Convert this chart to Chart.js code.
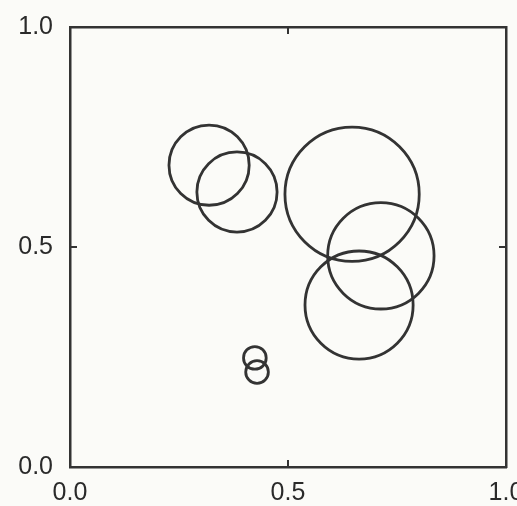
<!DOCTYPE html>
<html>
<head>
<meta charset="utf-8">
<script src="https://cdn.jsdelivr.net/npm/chart.js@4.4.0/dist/chart.umd.min.js"></script>
<style>
  html, body { margin: 0; padding: 0; background: #fbfbf8; }
  #wrap { width: 517px; height: 506px; }
</style>
</head>
<body>
<div id="wrap"><canvas id="bubbles"></canvas></div>
<script>
// circle centres and radii, all in axis units
var xs = [0.319, 0.383, 0.647, 0.713, 0.663, 0.424, 0.429];
var ys = [0.686, 0.625, 0.620, 0.480, 0.368, 0.248, 0.216];
var radii = [0.092, 0.092, 0.154, 0.122, 0.124, 0.026, 0.026];
var tickVals = [0, 0.5, 1];

var ink = "#333";
var labelFont = { family: "'Liberation Sans', Arial, sans-serif", size: 25 };

// small inward ticks at 0.5 on all four sides of the frame
var innerTicks = {
  id: "innerTicks",
  afterDraw: function (chart) {
    var c = chart.ctx, a = chart.chartArea;
    var sx = chart.scales.x, sy = chart.scales.y;
    var len = 7;
    c.save();
    c.strokeStyle = ink;
    c.lineWidth = 2;
    var px = sx.getPixelForValue(0.5), py = sy.getPixelForValue(0.5);
    c.beginPath();
    c.moveTo(px, a.top); c.lineTo(px, a.top + len);
    c.moveTo(px, a.bottom); c.lineTo(px, a.bottom - len);
    c.moveTo(a.left, py); c.lineTo(a.left + len, py);
    c.moveTo(a.right, py); c.lineTo(a.right - len, py);
    c.stroke();
    c.restore();
  }
};

function fmt(v) { return tickVals.indexOf(v) >= 0 ? v.toFixed(1) : ""; }

var chart = new Chart("bubbles", {
  type: "bubble",
  data: {
    datasets: [{
      data: xs.map(function (x, i) { return { x: x, y: ys[i], r: 0 }; }),
      backgroundColor: "rgba(0,0,0,0)",
      borderColor: ink,
      borderWidth: 2.8,
      hoverBorderWidth: 2.8
    }]
  },
  options: {
    responsive: true,
    maintainAspectRatio: false,
    animation: false,
    events: [],
    // big bubbles would otherwise push the frame inwards
    layout: { autoPadding: false, padding: { left: 0, right: 11, top: 27, bottom: 0 } },
    plugins: { legend: { display: false }, tooltip: { enabled: false } },
    scales: {
      x: {
        type: "linear", min: 0, max: 1,
        grid: { display: false },
        border: { display: true, color: ink, width: 2.5 },
        ticks: { stepSize: 0.5, padding: 3, color: "#2a2a2a", font: labelFont, callback: fmt, maxRotation: 0 },
        // let the "1.0" label run past the right edge instead of shrinking the plot
        afterFit: function (s) { s.height = 39; s.paddingRight = 0; }
      },
      x2: {
        type: "linear", position: "top", min: 0, max: 1,
        grid: { display: false },
        border: { display: true, color: ink, width: 2.5 },
        ticks: { display: false },
        afterFit: function (s) { s.height = 0; }
      },
      y: {
        type: "linear", min: 0, max: 1,
        grid: { display: false },
        border: { display: true, color: ink, width: 2.5 },
        ticks: { stepSize: 0.5, padding: 9, color: "#2a2a2a", font: labelFont, callback: fmt },
        afterFit: function (s) { s.width = 70; }
      },
      y2: {
        type: "linear", position: "right", min: 0, max: 1,
        grid: { display: false },
        border: { display: true, color: ink, width: 2.5 },
        ticks: { display: false },
        afterFit: function (s) { s.width = 0; }
      }
    }
  },
  plugins: [innerTicks]
});

// bubble radius is in pixels, so convert the axis-unit radii through the x scale
var sx = chart.scales.x;
chart.data.datasets[0].data = xs.map(function (x, i) {
  return { x: x, y: ys[i], r: sx.getPixelForValue(radii[i]) - sx.getPixelForValue(0) };
});
chart.update();
</script>
</body>
</html>
